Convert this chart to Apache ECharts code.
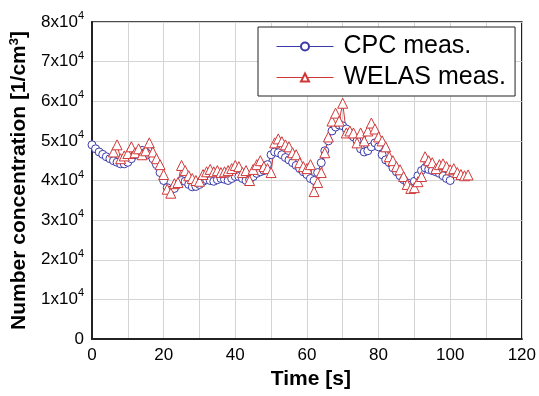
<!DOCTYPE html>
<html><head><meta charset="utf-8">
<script src="https://cdn.jsdelivr.net/npm/echarts@6/dist/echarts.min.js"></script>
<style>html,body{margin:0;padding:0;background:#fff}#c{width:539px;height:396px}</style>
</head><body><div id="c"></div>
<script>
// Time [s] and values (x10^4 1/cm3)
var cpcStart = 0;
var cpcValues = [4.90,4.80,4.72,4.66,4.60,4.55,4.50,4.46,4.42,4.42,
4.46,4.55,4.65,4.72,4.76,4.72,4.65,4.55,4.40,4.20,
4.00,3.82,3.76,3.80,3.90,4.00,3.98,3.90,3.84,3.85,
3.90,3.98,4.02,4.00,3.98,4.02,4.05,4.03,4.00,4.05,
4.10,4.10,4.05,4.00,4.02,4.10,4.18,4.22,4.25,4.40,
4.65,4.72,4.70,4.65,4.58,4.52,4.45,4.38,4.30,4.22,
4.15,4.05,4.00,4.20,4.45,4.75,5.00,5.25,5.35,5.40,
5.38,5.30,5.20,5.10,5.00,4.80,4.72,4.75,4.85,4.95,
4.85,4.65,4.52,4.45,4.32,4.22,4.12,4.02,3.94,3.88,
3.98,4.12,4.25,4.32,4.28,4.25,4.22,4.18,4.12,4.05,
4.00];
var welasStart = 6;
var welasValues = [4.72,4.90,4.55,4.62,
4.68,4.85,4.70,4.80,4.65,4.75,4.95,4.72,4.55,4.40,
4.15,3.78,3.68,3.92,3.95,4.38,4.25,4.12,4.05,4.00,
3.98,4.15,4.22,4.28,4.22,4.25,4.20,4.22,4.25,4.30,
4.38,4.35,4.20,4.25,4.00,4.28,4.40,4.50,4.35,4.30,
4.20,4.95,5.05,4.98,4.90,4.85,4.70,4.65,4.45,4.35,
4.30,4.40,3.72,3.95,4.20,4.70,5.10,5.50,5.70,5.50,
5.95,5.20,5.25,5.20,4.95,5.20,5.00,5.25,5.45,5.30,
5.10,5.00,4.85,4.60,4.50,4.35,4.27,4.10,3.90,3.80,
3.82,3.97,4.10,4.60,4.50,4.45,4.30,4.40,4.42,4.35,
4.27,4.30,4.20,4.15,4.12,4.14];
var xTicks = [0,20,40,60,80,100,120];
var yTickMantissa = [0,1,2,3,4,5,6,7,8];
var seriesNames = ['CPC meas.','WELAS meas.'];

function toPairs(start, vals){
  return vals.map(function(v,i){ return [start+i, v*1e4]; });
}

var chart = echarts.init(document.getElementById('c'), null, {renderer:'canvas'});
var font = 'Liberation Sans, Arial, sans-serif';
chart.setOption({
  animation:false,
  textStyle:{fontFamily:font},
  grid:{left:92,right:15,top:22,bottom:57,show:true,borderColor:'#111',borderWidth:1.5},
  legend:{
    left:258, top:27, orient:'vertical',
    backgroundColor:'#fff', borderColor:'#222', borderWidth:1,
    padding:[7,9,6,18], itemGap:6, itemWidth:57, itemHeight:10,
    lineStyle:{width:1},
    textStyle:{fontSize:25, color:'#000', fontFamily:font, padding:[0,0,0,5]},
    data:seriesNames
  },
  xAxis:{
    type:'value', min:0, max:120, interval:10,
    name:'Time [s]', nameLocation:'middle', nameGap:30,
    nameTextStyle:{fontSize:21, fontWeight:'bold', color:'#000', padding:[0,0,0,8]},
    axisLine:{show:true, lineStyle:{color:'#222', width:2}},
    axisTick:{show:false},
    axisLabel:{fontSize:17, color:'#000', margin:8,
      formatter:function(v){ return xTicks.indexOf(v)>=0 ? String(v) : ''; }},
    splitLine:{show:true, lineStyle:{color:'#d4d4d4', width:1}}
  },
  yAxis:{
    type:'value', min:0, max:80000, interval:10000,
    name:'Number concentration [1/cm{s|3}]', nameLocation:'middle', nameGap:60,
    nameTextStyle:{fontSize:21, fontWeight:'bold', color:'#000',
      rich:{s:{fontSize:13, fontWeight:'bold', padding:[0,0,10,0]}}},
    axisLine:{show:true, lineStyle:{color:'#222', width:2}},
    axisTick:{show:false},
    axisLabel:{color:'#000', margin:8,
      formatter:function(v){
        var m = Math.round(v/1e4);
        if (yTickMantissa.indexOf(m)<0) return '';
        return m===0 ? '{a|0}' : '{a|'+m+'x10}{b|4}';
      },
      rich:{a:{fontSize:17, color:'#000'}, b:{fontSize:11, color:'#000', padding:[0,0,12,0]}}
    },
    splitLine:{show:true, lineStyle:{color:'#d4d4d4', width:1}}
  },
  series:[
    {name:seriesNames[0], type:'line', data:toPairs(cpcStart,cpcValues),
     symbol:'circle', symbolSize:8, showAllSymbol:true,
     lineStyle:{color:'#3a3aa8', width:1},
     itemStyle:{color:'#fff', borderColor:'#3a3aa8', borderWidth:1}},
    {name:seriesNames[1], type:'line', data:toPairs(welasStart,welasValues),
     symbol:'triangle', symbolSize:10, showAllSymbol:true,
     lineStyle:{color:'#d03838', width:1},
     itemStyle:{color:'#fff', borderColor:'#d03838', borderWidth:1}}
  ]
});
</script></body></html>
